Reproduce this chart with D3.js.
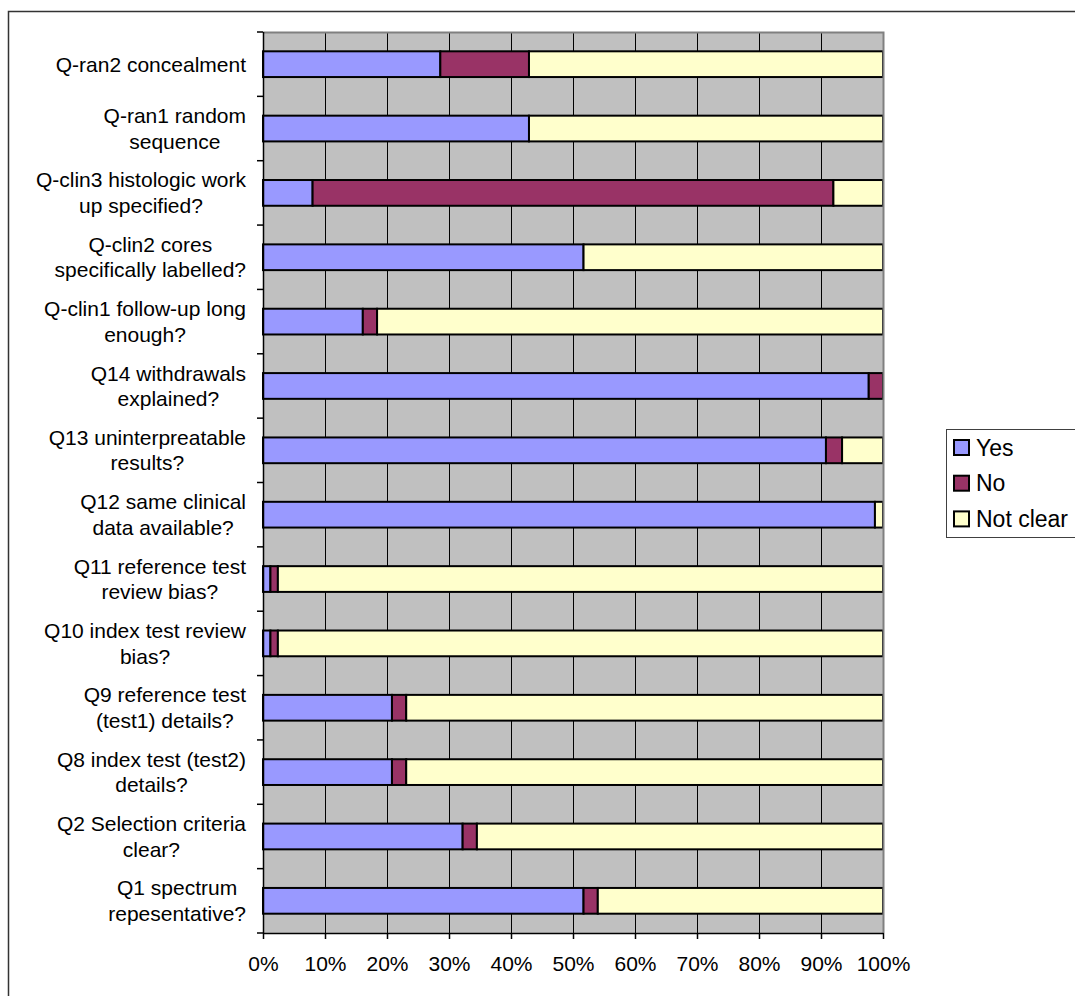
<!DOCTYPE html>
<html>
<head>
<meta charset="utf-8">
<script src="https://cdn.jsdelivr.net/npm/d3@7"></script>
<style>
  html, body { margin: 0; padding: 0; background: #fff; }
  svg { display: block; }
  text { font-family: "Liberation Sans", Arial, Helvetica, sans-serif; fill: #000; }
</style>
</head>
<body>
<svg id="chart" width="1075" height="996"></svg>
<script>
// Quality assessment items (top to bottom); "|" marks a line break in the label
const categories = [
  "Q-ran2 concealment",
  "Q-ran1 random|sequence",
  "Q-clin3 histologic work|up specified?",
  "Q-clin2 cores|specifically labelled?",
  "Q-clin1 follow-up long|enough?",
  "Q14 withdrawals|explained?",
  "Q13 uninterpreatable|results?",
  "Q12 same clinical|data available?",
  "Q11 reference test|review bias?",
  "Q10 index test review|bias?",
  "Q9 reference test|(test1) details?",
  "Q8 index test (test2)|details?",
  "Q2 Selection criteria|clear?",
  "Q1 spectrum|repesentative?"
];

// Share of studies per answer, in percent
const yesValues      = [28.6, 42.9,  8.0, 51.7, 16.1, 97.7, 90.8, 98.7,  1.2,  1.2, 20.8, 20.8, 32.2, 51.7];
const noValues       = [14.3,  0.0, 84.0,  0.0,  2.3,  2.3,  2.6,  0.0,  1.2,  1.2,  2.3,  2.3,  2.3,  2.3];
const notClearValues = [57.1, 57.1,  8.0, 48.3, 81.6,  0.0,  6.6,  1.3, 97.6, 97.6, 76.9, 76.9, 65.5, 46.0];

const seriesNames  = ["Yes", "No", "Not clear"];
const seriesColors = ["#9999FF", "#993366", "#FFFFCC"];
const xTickValues  = [0, 10, 20, 30, 40, 50, 60, 70, 80, 90, 100];

const rows = categories.map((c, i) => ({
  category: c,
  "Yes": yesValues[i],
  "No": noValues[i],
  "Not clear": notClearValues[i]
}));

const svg = d3.select("#chart");
const plot = { left: 263, right: 883, top: 32, bottom: 933 };

const x = d3.scaleLinear().domain([0, 100]).range([plot.left, plot.right]);
const y = d3.scaleBand().domain(categories).range([plot.top, plot.bottom])
  .paddingInner(0.6).paddingOuter(0.3);
const color = d3.scaleOrdinal().domain(seriesNames).range(seriesColors);

// Chart frame
svg.append("rect")
  .attr("x", 8.5).attr("y", 11.5)
  .attr("width", 1080).attr("height", 1000)
  .attr("fill", "#fff").attr("stroke", "#333").attr("stroke-width", 1.5);

// Plot area background
svg.append("rect")
  .attr("x", plot.left).attr("y", plot.top)
  .attr("width", plot.right - plot.left).attr("height", plot.bottom - plot.top)
  .attr("fill", "#C0C0C0");

// Vertical gridlines
svg.append("g")
  .selectAll("line")
  .data(xTickValues.filter(v => v > 0 && v < 100))
  .join("line")
  .attr("x1", d => Math.round(x(d)) + 0.5).attr("x2", d => Math.round(x(d)) + 0.5)
  .attr("y1", plot.top).attr("y2", plot.bottom)
  .attr("stroke", "#000").attr("stroke-width", 1);

// Stacked bars
const stacked = d3.stack().keys(seriesNames)(rows);
svg.append("g")
  .selectAll("g")
  .data(stacked)
  .join("g")
  .attr("fill", d => color(d.key))
  .selectAll("rect")
  .data(d => d.filter(s => s[1] - s[0] > 0))
  .join("rect")
  .attr("x", d => x(d[0]))
  .attr("y", d => y(d.data.category))
  .attr("width", d => x(d[1]) - x(d[0]))
  .attr("height", y.bandwidth())
  .attr("stroke", "#000")
  .attr("stroke-width", 2);

// Plot area border (top and right)
svg.append("path")
  .attr("d", `M${plot.left},${plot.top + 0.5}H${plot.right + 0.5}V${plot.bottom}`)
  .attr("fill", "none").attr("stroke", "#808080").attr("stroke-width", 2);

// Category axis: line, ticks at band boundaries, wrapped labels
const yAxis = svg.append("g");
yAxis.append("line")
  .attr("x1", plot.left + 0.5).attr("x2", plot.left + 0.5)
  .attr("y1", plot.top).attr("y2", plot.bottom)
  .attr("stroke", "#000").attr("stroke-width", 1.5);
yAxis.selectAll("line.tick")
  .data(d3.range(categories.length + 1))
  .join("line")
  .attr("class", "tick")
  .attr("x1", plot.left - 6).attr("x2", plot.left)
  .attr("y1", i => plot.top + i * y.step())
  .attr("y2", i => plot.top + i * y.step())
  .attr("stroke", "#000").attr("stroke-width", 1.5);

const labelRight = 246;
const lineHeight = 25.6;
categories.forEach(c => {
  const lines = c.split("|");
  const cy = y(c) + y.bandwidth() / 2;
  const g = yAxis.append("g");
  const texts = lines.map((ln, k) =>
    g.append("text")
      .attr("font-size", 21)
      .attr("text-anchor", "middle")
      .attr("y", cy + (k - (lines.length - 1) / 2) * lineHeight)
      .attr("dy", "0.35em")
      .text(ln)
  );
  const maxW = d3.max(texts, t => t.node().getComputedTextLength());
  texts.forEach(t => t.attr("x", labelRight - maxW / 2));
});

// Value axis
const xAxis = svg.append("g")
  .attr("transform", `translate(0,${plot.bottom})`)
  .call(d3.axisBottom(x).tickValues(xTickValues).tickFormat(d => d + "%")
    .tickSize(6).tickPadding(17).tickSizeOuter(0));
xAxis.select(".domain").attr("stroke", "#000").attr("stroke-width", 1.5);
xAxis.selectAll(".tick line").attr("stroke", "#000").attr("stroke-width", 1.5);
xAxis.selectAll(".tick text")
  .attr("font-size", 21)
  .attr("font-family", "\"Liberation Sans\", Arial, sans-serif")
  .attr("fill", "#000");

// Legend
const legend = svg.append("g");
legend.append("rect")
  .attr("x", 946.5).attr("y", 429.5)
  .attr("width", 140).attr("height", 108)
  .attr("fill", "#fff").attr("stroke", "#404040").attr("stroke-width", 1);
const entry = legend.selectAll("g.entry")
  .data(seriesNames)
  .join("g")
  .attr("class", "entry")
  .attr("transform", (d, i) => `translate(954,${447.5 + i * 35.7})`);
entry.append("rect")
  .attr("x", 0).attr("y", -7.5)
  .attr("width", 15).attr("height", 15)
  .attr("fill", d => color(d))
  .attr("stroke", "#000").attr("stroke-width", 2);
entry.append("text")
  .attr("x", 22).attr("dy", "0.35em")
  .attr("font-size", 23)
  .text(d => d);
</script>
</body>
</html>
